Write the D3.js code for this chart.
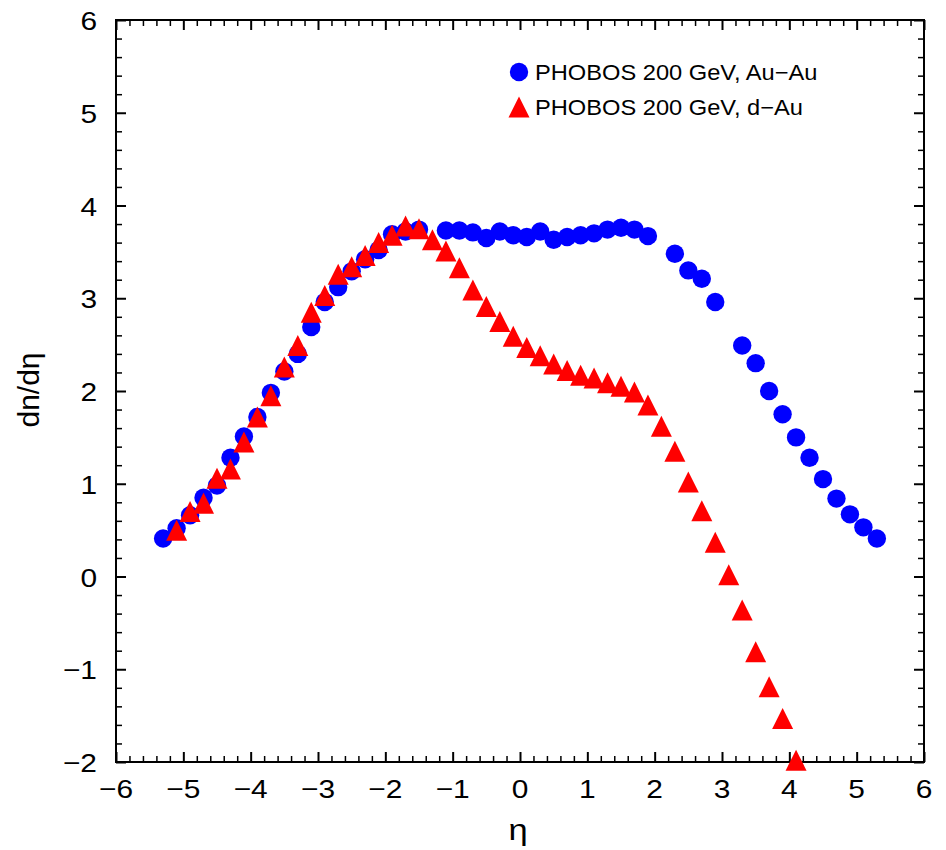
<!DOCTYPE html>
<html>
<head>
<meta charset="utf-8">
<script src="https://cdn.jsdelivr.net/npm/d3@7"></script>
<style>
    body { margin: 0; background: #ffffff; }
    text { font-family: "Liberation Sans", Arial, Helvetica, sans-serif; fill: #000; }
</style>
</head>
<body>
<div id="chart"></div>
<script>
// PHOBOS 200 GeV, Au-Au
let auAuEta = [-5.3, -5.1, -4.9, -4.7, -4.5, -4.3, -4.1, -3.9, -3.7, -3.5, -3.3, -3.1, -2.9, -2.7, -2.5, -2.3, -2.1, -1.9, -1.7, -1.5,
    -1.1, -0.9, -0.7, -0.5, -0.3, -0.1, 0.1, 0.3, 0.5, 0.7, 0.9, 1.1, 1.3, 1.5, 1.7, 1.9,
    2.3, 2.5, 2.7, 2.9, 3.3, 3.5, 3.7, 3.9, 4.1, 4.3, 4.5, 4.7, 4.9, 5.1, 5.3];
let auAuVal = [0.41, 0.52, 0.66, 0.85, 0.98, 1.28, 1.51, 1.72, 1.98, 2.21, 2.40, 2.69, 2.96, 3.12, 3.29, 3.42, 3.52, 3.69, 3.72, 3.74,
    3.73, 3.73, 3.71, 3.65, 3.72, 3.68, 3.66, 3.72, 3.63, 3.66, 3.68, 3.70, 3.74, 3.76, 3.74, 3.67,
    3.48, 3.30, 3.21, 2.96, 2.49, 2.30, 2.00, 1.75, 1.50, 1.28, 1.05, 0.84, 0.67, 0.53, 0.41];

// PHOBOS 200 GeV, d-Au
let dAuEta = [-5.1, -4.9, -4.7, -4.5, -4.3, -4.1, -3.9, -3.7, -3.5, -3.3, -3.1, -2.9, -2.7, -2.5, -2.3, -2.1, -1.9, -1.7, -1.5, -1.3, -1.1, -0.9,
    -0.7, -0.5, -0.3, -0.1, 0.1, 0.3, 0.5, 0.7, 0.9, 1.1, 1.3, 1.5, 1.7, 1.9,
    2.1, 2.3, 2.5, 2.7, 2.9, 3.1, 3.3, 3.5, 3.7, 3.9, 4.1];
let dAuVal = [0.50, 0.70, 0.79, 1.06, 1.16, 1.45, 1.72, 1.95, 2.26, 2.49, 2.85, 3.03, 3.26, 3.34, 3.46, 3.60, 3.68, 3.78, 3.75, 3.63, 3.51, 3.33,
    3.09, 2.91, 2.75, 2.59, 2.47, 2.38, 2.29, 2.22, 2.17, 2.14, 2.09, 2.05, 1.99, 1.85,
    1.62, 1.35, 1.02, 0.71, 0.37, 0.02, -0.36, -0.81, -1.19, -1.53, -1.98];

let xTicks = [-6, -5, -4, -3, -2, -1, 0, 1, 2, 3, 4, 5, 6];
let yTicks = [-2, -1, 0, 1, 2, 3, 4, 5, 6];
let legendNames = ["PHOBOS 200 GeV, Au\u2212Au", "PHOBOS 200 GeV, d\u2212Au"];

let width = 946, height = 850;
let frame = { left: 116, right: 924, top: 20, bottom: 762 };
let stretch = 1.15; // labels in the picture are a bit wider than the font

function fmt(v) { return v < 0 ? "\u2212" + Math.abs(v) : String(v); }

let svg = d3.select("#chart").append("svg")
    .attr("width", width)
    .attr("height", height);

//=================================================
// Scales
//=================================================
let scaleX = d3.scaleLinear().domain([-6, 6]).range([frame.left, frame.right]);
let scaleY = d3.scaleLinear().domain([-2, 6]).range([frame.bottom, frame.top]);

let minorX = d3.range(-60, 61, 2).map(d => d / 10).filter(d => Math.abs(d % 1) > 1e-6);
let minorY = d3.range(-20, 61, 2).map(d => d / 10).filter(d => Math.abs(d % 1) > 1e-6);

//=================================================
// Ticks on all four sides (inward)
//=================================================
function addAxis(axisFn, scale, values, size, transform, sw) {
    let g = svg.append("g")
        .attr("transform", transform)
        .call(axisFn(scale).tickValues(values).tickSize(-size).tickSizeOuter(0).tickFormat(""));
    g.select(".domain").remove();
    g.selectAll("line").attr("stroke", "#000").attr("stroke-width", sw);
}
addAxis(d3.axisBottom, scaleX, xTicks, 10, "translate(0," + frame.bottom + ")", 2);
addAxis(d3.axisBottom, scaleX, minorX, 6, "translate(0," + frame.bottom + ")", 1.5);
addAxis(d3.axisTop, scaleX, xTicks, 10, "translate(0," + frame.top + ")", 2);
addAxis(d3.axisTop, scaleX, minorX, 6, "translate(0," + frame.top + ")", 1.5);
addAxis(d3.axisLeft, scaleY, yTicks, 10, "translate(" + frame.left + ",0)", 2);
addAxis(d3.axisLeft, scaleY, minorY, 6, "translate(" + frame.left + ",0)", 1.5);
addAxis(d3.axisRight, scaleY, yTicks, 10, "translate(" + frame.right + ",0)", 2);
addAxis(d3.axisRight, scaleY, minorY, 6, "translate(" + frame.right + ",0)", 1.5);

svg.append("rect")
    .attr("x", frame.left).attr("y", frame.top)
    .attr("width", frame.right - frame.left).attr("height", frame.bottom - frame.top)
    .attr("fill", "none").attr("stroke", "#000").attr("stroke-width", 2);

//=================================================
// Tick labels
//=================================================
svg.append("g").selectAll("g").data(xTicks).join("g")
    .attr("transform", d => "translate(" + scaleX(d) + "," + (frame.bottom + 36) + ") scale(" + stretch + ",1)")
    .append("text")
    .attr("text-anchor", "middle")
    .attr("font-size", 26)
    .text(fmt);

svg.append("g").selectAll("g").data(yTicks).join("g")
    .attr("transform", d => "translate(" + (frame.left - 19) + "," + (scaleY(d) + 10) + ") scale(" + stretch + ",1)")
    .append("text")
    .attr("text-anchor", "end")
    .attr("font-size", 26)
    .text(fmt);

//=================================================
// Axis titles
//=================================================
svg.append("g")
    .attr("transform", "translate(518," + 840 + ") scale(" + stretch + ",1)")
    .append("text")
    .attr("text-anchor", "middle")
    .attr("font-size", 30)
    .text("\u03b7");

svg.append("text")
    .attr("transform", "translate(39,390) rotate(-90)")
    .attr("text-anchor", "middle")
    .attr("font-size", 30)
    .text("dn/d\u03b7");

//=================================================
// Series
//=================================================
let triW = 21, triH = 21;
function triangle(w, h) {
    return "M0," + (-h / 2) + "L" + (w / 2) + "," + (h / 2) + "L" + (-w / 2) + "," + (h / 2) + "Z";
}

svg.append("g").selectAll("circle").data(d3.zip(auAuEta, auAuVal)).join("circle")
    .attr("cx", d => scaleX(d[0]))
    .attr("cy", d => scaleY(d[1]))
    .attr("r", 9.2)
    .attr("fill", "#0000ff");

svg.append("g").selectAll("path").data(d3.zip(dAuEta, dAuVal)).join("path")
    .attr("transform", d => "translate(" + scaleX(d[0]) + "," + scaleY(d[1]) + ")")
    .attr("d", triangle(triW, triH))
    .attr("fill", "#ff0000");

//=================================================
// Legend
//=================================================
let legend = svg.append("g");
legend.append("circle").attr("cx", 519).attr("cy", 72).attr("r", 9.2).attr("fill", "#0000ff");
legend.append("path").attr("transform", "translate(519,107)").attr("d", triangle(triW, triH)).attr("fill", "#ff0000");
legendNames.forEach((name, i) => {
    legend.append("g")
        .attr("transform", "translate(535," + (80 + i * 35) + ") scale(1.1,1)")
        .append("text")
        .attr("font-size", 21.5)
        .text(name);
});
</script>
</body>
</html>
